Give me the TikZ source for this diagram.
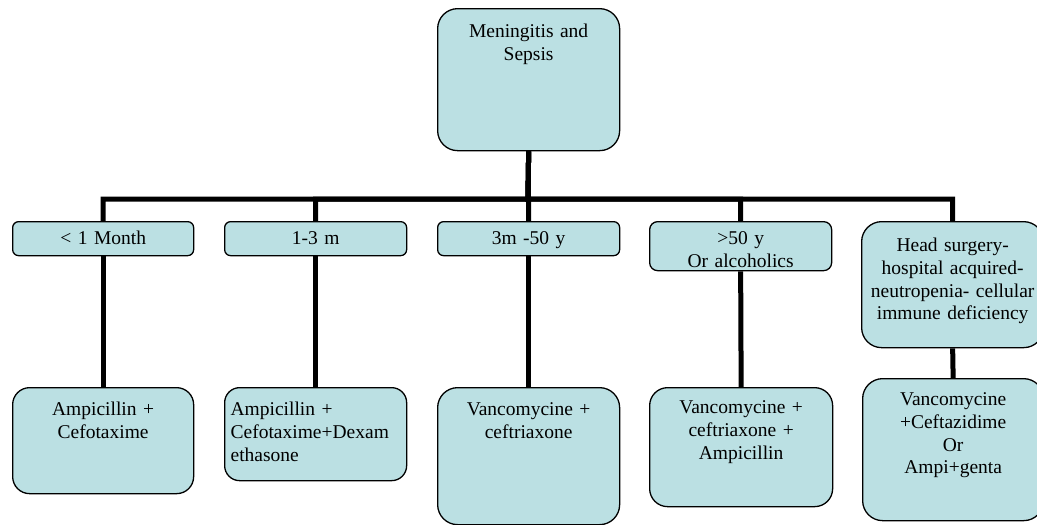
\documentclass[tikz,border=0pt]{standalone}
\usepackage{fontspec}
\setmainfont{Liberation Serif}
\definecolor{boxfill}{RGB}{187,224,227}
\begin{document}
\begin{tikzpicture}[x=1pt,y=-1pt,
  box/.style={draw=black, line width=1.3pt, fill=boxfill, anchor=north west,
    inner xsep=0pt, inner ysep=0pt, align=center,
    font=\fontsize{19.5}{22.7}\selectfont},
  conn/.style={line width=5pt, draw=black}]
\useasboundingbox (0,0) rectangle (1037,525);
% root
\node[box, text width=182pt, text height=29pt, text depth=113pt, rounded corners=20pt] (T) at (437,8) {Meningitis and\\Sepsis};
% first row
\node[box, text width=181pt, text height=23pt, text depth=11pt, rounded corners=6pt] (A1) at (12,221) {< 1 Month};
\node[box, text width=182pt, text height=23pt, text depth=11pt, rounded corners=6pt] (A2) at (224,221) {1-3 m};
\node[box, text width=182pt, text height=23pt, text depth=11pt, rounded corners=6pt] (A3) at (437,221) {3m -50 y};
\node[box, text width=182pt, text height=23pt, text depth=26pt, rounded corners=8pt] (A4) at (649,221) {>50 y\\Or alcoholics};
\node[box, text width=182pt, text height=30pt, text depth=96pt, rounded corners=20pt] (A5) at (861,221) {Head surgery-\\hospital acquired-\\neutropenia- cellular\\immune deficiency};
% second row
\node[box, text width=181pt, text height=28pt, text depth=78pt, rounded corners=17pt] (B1) at (12,387) {Ampicillin +\\Cefotaxime};
\node[box, align=left, inner xsep=6pt, text width=170pt, text height=28pt, text depth=65pt, rounded corners=15pt] (B2) at (224,387) {Ampicillin +\\Cefotaxime+Dexam\\ethasone};
\node[box, text width=182pt, text height=28pt, text depth=109pt, rounded corners=20pt] (B3) at (437,387) {Vancomycine +\\ceftriaxone};
\node[box, text width=183pt, text height=26pt, text depth=93pt, rounded corners=18pt] (B4) at (649,387) {Vancomycine +\\ceftriaxone +\\Ampicillin};
\node[box, text width=181pt, text height=27pt, text depth=115pt, rounded corners=20pt] (B5) at (862,378) {Vancomycine\\+Ceftazidime\\Or\\Ampi+genta};
% connectors
\coordinate (bar) at (528,199);
\foreach \n in {A1,A2,A3,A4,A5}
  \draw[conn] (T.south) -- (bar) -| (\n.north);
\draw[conn] (A1.south) -- (B1.north);
\draw[conn] (A2.south) -- (B2.north);
\draw[conn] (A3.south) -- (B3.north);
\draw[conn] (A4.south) -- (B4.north);
\draw[conn] (A5.south) -- (B5.north);
\end{tikzpicture}
\end{document}
